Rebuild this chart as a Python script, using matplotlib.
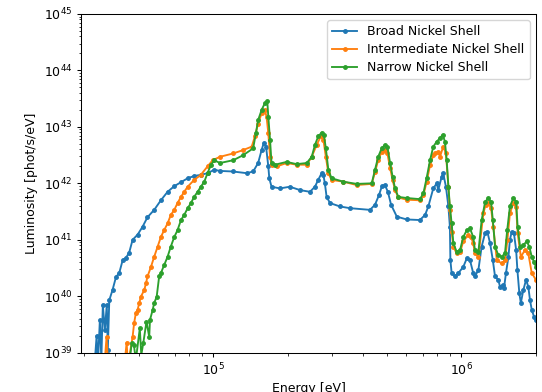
import numpy as np
import matplotlib
matplotlib.use('Agg')
from matplotlib import pyplot as plt

# log10 of energy [eV] and luminosity [phot/s/eV]
broad_logE = [4.523, 4.530, 4.535, 4.543, 4.549, 4.555, 4.563, 4.571, 4.575, 4.581,
              4.594, 4.608, 4.621, 4.635, 4.648, 4.661, 4.675, 4.695, 4.715, 4.735,
              4.762, 4.789, 4.816, 4.843, 4.870, 4.897, 4.923, 4.950, 4.977, 5.004,
              5.027, 5.079, 5.135, 5.161, 5.181, 5.195, 5.204, 5.213, 5.222, 5.226,
              5.235, 5.269, 5.309, 5.350, 5.390, 5.410, 5.423, 5.437, 5.444, 5.450,
              5.457, 5.471, 5.511, 5.551, 5.632, 5.652, 5.668, 5.680, 5.692, 5.704,
              5.717, 5.740, 5.780, 5.833, 5.854, 5.867, 5.887, 5.901, 5.907, 5.921,
              5.927, 5.938, 5.948, 5.954, 5.956, 5.961, 5.975, 5.988, 6.008, 6.022,
              6.035, 6.048, 6.055, 6.069, 6.082, 6.096, 6.105, 6.116, 6.127, 6.136,
              6.149, 6.156, 6.167, 6.172, 6.180, 6.190, 6.196, 6.203, 6.212, 6.221,
              6.226, 6.234, 6.240, 6.250, 6.261, 6.270, 6.277, 6.284, 6.293, 6.301,
              6.317]
broad_logL = [38.87, 39.30, 38.78, 39.58, 38.87, 39.85, 39.40, 39.85, 39.05, 39.93,
              40.11, 40.34, 40.41, 40.64, 40.68, 40.77, 41.00, 41.09, 41.23, 41.40,
              41.53, 41.70, 41.85, 41.95, 42.02, 42.09, 42.13, 42.15, 42.18, 42.24,
              42.22, 42.21, 42.18, 42.21, 42.36, 42.59, 42.72, 42.65, 42.30, 42.09,
              41.94, 41.91, 41.94, 41.88, 41.85, 41.94, 42.06, 42.18, 42.15, 42.00,
              41.76, 41.65, 41.59, 41.56, 41.53, 41.62, 41.79, 41.95, 41.97, 41.85,
              41.62, 41.41, 41.36, 41.35, 41.44, 41.59, 41.91, 42.00, 41.88, 42.12,
              42.18, 41.94, 41.59, 41.23, 40.64, 40.41, 40.35, 40.41, 40.52, 40.67,
              40.64, 40.41, 40.35, 40.47, 40.88, 41.12, 41.14, 40.94, 40.64, 40.35,
              40.29, 40.17, 40.20, 40.14, 40.41, 40.70, 41.00, 41.14, 41.12, 40.82,
              40.47, 40.05, 39.88, 40.11, 40.29, 40.17, 39.93, 39.76, 39.64, 39.58,
              39.61]

inter_logE = [4.563, 4.570, 4.575, 4.644, 4.651, 4.656, 4.675, 4.681, 4.688, 4.695,
              4.702, 4.708, 4.722, 4.729, 4.735, 4.749, 4.762, 4.776, 4.789, 4.802,
              4.816, 4.829, 4.843, 4.856, 4.870, 4.883, 4.897, 4.923, 4.950, 4.977,
              4.998, 5.027, 5.081, 5.121, 5.155, 5.168, 5.181, 5.195, 5.208, 5.215,
              5.222, 5.229, 5.235, 5.256, 5.296, 5.336, 5.377, 5.397, 5.417, 5.433,
              5.444, 5.454, 5.464, 5.477, 5.524, 5.578, 5.639, 5.652, 5.665, 5.679,
              5.692, 5.702, 5.713, 5.723, 5.733, 5.746, 5.780, 5.833, 5.847, 5.860,
              5.874, 5.887, 5.894, 5.907, 5.914, 5.927, 5.938, 5.948, 5.954, 5.961,
              5.968, 5.981, 5.995, 6.008, 6.028, 6.039, 6.048, 6.055, 6.069, 6.089,
              6.098, 6.109, 6.120, 6.129, 6.143, 6.163, 6.176, 6.186, 6.196, 6.210,
              6.221, 6.227, 6.240, 6.257, 6.270, 6.284, 6.301]
inter_logL = [38.87, 39.28, 38.87, 38.87, 39.18, 38.78, 39.28, 39.52, 39.70, 39.76,
              39.88, 39.99, 40.11, 40.23, 40.35, 40.52, 40.70, 40.88, 41.05, 41.17,
              41.29, 41.44, 41.53, 41.65, 41.76, 41.85, 41.94, 42.06, 42.15, 42.30,
              42.41, 42.47, 42.53, 42.59, 42.65, 42.83, 43.06, 43.24, 43.30, 43.18,
              42.89, 42.47, 42.33, 42.30, 42.36, 42.33, 42.33, 42.47, 42.68, 42.83,
              42.77, 42.47, 42.18, 42.06, 42.03, 41.97, 41.99, 42.20, 42.41, 42.56,
              42.59, 42.53, 42.27, 42.06, 41.88, 41.75, 41.71, 41.70, 41.79, 42.02,
              42.32, 42.50, 42.53, 42.56, 42.47, 42.65, 42.53, 41.94, 41.53, 41.14,
              40.88, 40.76, 40.78, 40.97, 41.09, 41.05, 40.94, 40.76, 40.70, 41.47,
              41.62, 41.65, 41.56, 41.23, 40.64, 40.58, 40.64, 41.00, 41.47, 41.65,
              41.58, 41.12, 40.70, 40.82, 40.76, 40.41, 40.29]

narrow_logE = [4.664, 4.671, 4.680, 4.688, 4.704, 4.710, 4.718, 4.731, 4.742, 4.745,
               4.756, 4.762, 4.772, 4.782, 4.789, 4.802, 4.816, 4.829, 4.843, 4.856,
               4.870, 4.883, 4.897, 4.910, 4.923, 4.937, 4.950, 4.964, 4.977, 4.991,
               5.004, 5.027, 5.081, 5.121, 5.161, 5.172, 5.181, 5.195, 5.208, 5.218,
               5.222, 5.229, 5.235, 5.249, 5.296, 5.336, 5.377, 5.397, 5.410, 5.423,
               5.437, 5.446, 5.454, 5.464, 5.477, 5.524, 5.578, 5.639, 5.652, 5.665,
               5.679, 5.692, 5.702, 5.713, 5.723, 5.733, 5.746, 5.780, 5.833, 5.847,
               5.860, 5.874, 5.887, 5.901, 5.914, 5.925, 5.934, 5.941, 5.948, 5.954,
               5.961, 5.968, 5.981, 5.995, 6.008, 6.022, 6.035, 6.048, 6.055, 6.069,
               6.082, 6.096, 6.109, 6.120, 6.127, 6.136, 6.149, 6.163, 6.176, 6.185,
               6.196, 6.210, 6.221, 6.227, 6.237, 6.250, 6.264, 6.274, 6.284, 6.293,
               6.301]
narrow_logL = [38.87, 39.17, 39.14, 38.87, 39.43, 38.96, 39.17, 39.55, 39.28, 39.58,
               39.76, 39.88, 39.99, 40.35, 40.41, 40.55, 40.70, 40.88, 41.05, 41.17,
               41.35, 41.44, 41.56, 41.65, 41.76, 41.85, 41.94, 42.03, 42.18, 42.33,
               42.41, 42.36, 42.41, 42.50, 42.62, 42.89, 43.12, 43.30, 43.42, 43.45,
               43.18, 42.77, 42.36, 42.33, 42.38, 42.34, 42.36, 42.47, 42.68, 42.83,
               42.90, 42.86, 42.62, 42.24, 42.09, 42.03, 41.99, 42.00, 42.24, 42.47,
               42.62, 42.68, 42.65, 42.36, 42.12, 41.91, 41.76, 41.74, 41.72, 41.82,
               42.09, 42.41, 42.65, 42.74, 42.80, 42.86, 42.74, 42.41, 41.94, 41.59,
               41.29, 40.94, 40.79, 40.82, 41.05, 41.17, 41.20, 41.05, 40.82, 40.79,
               41.35, 41.67, 41.74, 41.67, 41.35, 40.88, 40.73, 40.70, 40.76, 41.17,
               41.59, 41.74, 41.67, 41.23, 40.88, 40.91, 40.97, 40.88, 40.70, 40.61,
               40.52]

labels = ['Broad Nickel Shell', 'Intermediate Nickel Shell', 'Narrow Nickel Shell']
series = [(broad_logE, broad_logL), (inter_logE, inter_logL), (narrow_logE, narrow_logL)]

# reference looks like a default 640x480 figure shrunk to ~92%
plt.rcParams['font.size'] = 9
plt.rcParams['axes.linewidth'] = 0.75
for a in ('xtick', 'ytick'):
    plt.rcParams[a + '.major.size'] = 3.2
    plt.rcParams[a + '.minor.size'] = 1.8
    plt.rcParams[a + '.major.pad'] = 3.0
    plt.rcParams[a + '.major.width'] = 0.75
    plt.rcParams[a + '.minor.width'] = 0.55

fig = plt.figure(figsize=(5.42, 3.92), dpi=100)
ax = fig.add_axes([0.1494, 0.1003, 0.8395, 0.8640])

for (le, ll), lab in zip(series, labels):
    ax.plot(10**np.array(le), 10**np.array(ll), marker='.', markersize=5,
            linewidth=1.35, label=lab)

ax.set_xscale('log')
ax.set_yscale('log')
ax.set_xlim(2.93e4, 2.0e6)
ax.set_ylim(1e39, 1e45)
ax.set_xlabel('Energy [eV]', labelpad=3)
ax.set_ylabel('Luminosity [phot/s/eV]')
ax.legend(loc='upper right', labelspacing=0.4)

fig.savefig('out.png', dpi=100)
